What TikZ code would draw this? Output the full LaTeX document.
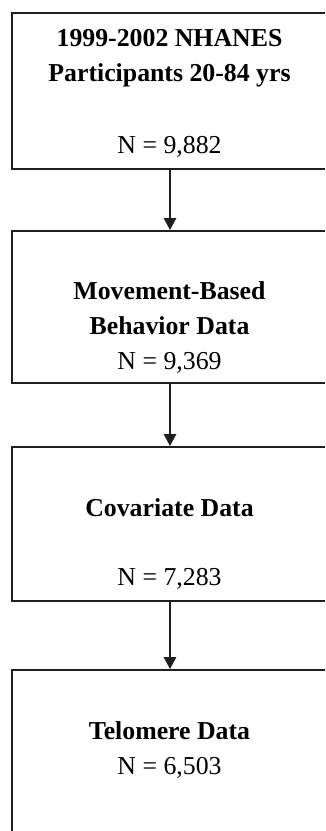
\documentclass[tikz,border=0pt]{standalone}
\usepackage{fontspec}
\setmainfont{Liberation Serif}
\usetikzlibrary{arrows.meta}
\begin{document}
\begin{tikzpicture}[x=1pt,y=-1pt,
  box/.style={draw=black!88,line width=1.8pt,minimum width=318pt,inner sep=0pt,anchor=north west},
  title/.style={font=\fontsize{25.8}{30}\selectfont\bfseries,anchor=base,inner sep=0pt},
  count/.style={font=\fontsize{25.8}{30}\selectfont,anchor=base,inner sep=0pt},
  arr/.style={draw=black!88,line width=1.5pt,-{Triangle[width=12.5pt,length=12pt]}}]
\clip (0,0) rectangle (325,831);
\fill[white] (0,0) rectangle (325,831);
\node[box,minimum height=156pt] (b1) at (11,12) {};
\node[box,minimum height=152pt] (b2) at (11,230) {};
\node[box,minimum height=154pt] (b3) at (11,446) {};
\node[box,minimum height=220pt] (b4) at (11,669) {};
\node[title] (t1a) at (169.5,46.5) {1999-2002 NHANES};
\node[title] (t1b) at (169.5,81) {Participants 20-84 yrs};
\node[count] (n1) at (169.5,153) {N = 9,882};
\node[title] (t2a) at (169.5,299.5) {Movement-Based};
\node[title] (t2b) at (169.5,334) {Behavior Data};
\node[count] (n2) at (169.5,369.5) {N = 9,369};
\node[title] (t3) at (169.5,516) {Covariate Data};
\node[count] (n3) at (169.5,585.5) {N = 7,283};
\node[title] (t4) at (169.5,739) {Telomere Data};
\node[count] (n4) at (169.5,774) {N = 6,503};
\coordinate (ax) at (170,0);
\draw[arr] (b1.south -| ax) -- (b2.north -| ax);
\draw[arr] (b2.south -| ax) -- (b3.north -| ax);
\draw[arr] (b3.south -| ax) -- (b4.north -| ax);
\end{tikzpicture}
\end{document}
